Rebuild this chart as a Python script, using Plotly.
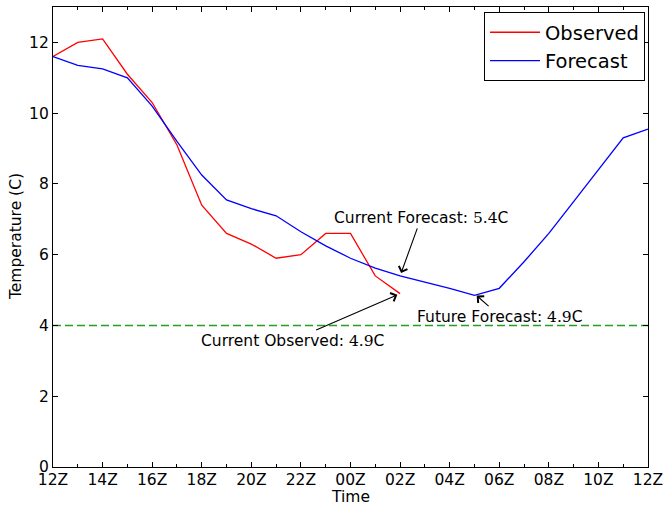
import plotly.graph_objects as go

# hours since 12Z
obs_hours = list(range(0, 15))
obs_temp = [11.6, 12.0, 12.1, 11.1, 10.3, 9.1, 7.4, 6.6, 6.3, 5.9, 6.0, 6.6, 6.6, 5.4, 4.9]

fc_hours = list(range(0, 25))
fc_temp = [11.6, 11.35, 11.25, 11.0, 10.2, 9.2, 8.25, 7.55, 7.3, 7.1, 6.65, 6.25, 5.9,
           5.62, 5.4, 5.23, 5.05, 4.85, 5.05, 5.8, 6.6, 7.5, 8.4, 9.3, 9.55]

threshold = 4.0
tick_hours = list(range(0, 25, 2))
tick_labels = ["12Z", "14Z", "16Z", "18Z", "20Z", "22Z", "00Z", "02Z", "04Z", "06Z", "08Z", "10Z", "12Z"]
y_ticks = [0, 2, 4, 6, 8, 10, 12]

current_fc = 5.4
current_obs = 4.9
future_fc = 4.9

FONT = "DejaVu Sans"
SERIF = "DejaVu Serif"
FS = 15.5

fig = go.Figure()
fig.add_trace(go.Scatter(x=obs_hours, y=obs_temp, mode="lines", name="Observed",
                         line=dict(color="#ff0000", width=1.3)))
fig.add_trace(go.Scatter(x=fc_hours, y=fc_temp, mode="lines", name="Forecast",
                         line=dict(color="#0000ff", width=1.3)))
fig.add_trace(go.Scatter(x=[fc_hours[0], fc_hours[-1]], y=[threshold, threshold], mode="lines",
                         showlegend=False, line=dict(color="#22a022", width=1.4, dash="8px,4px")))

def num(v):
    return f'<span style="font-family:{SERIF}">{v:.1f}</span>C'

ann_common = dict(xref="x", yref="y", showarrow=True, arrowhead=4, arrowsize=1.6,
                  arrowwidth=1.1, arrowcolor="black", standoff=3,
                  font=dict(family=FONT, size=FS, color="black"))
fig.add_annotation(x=14, y=current_fc, ax=21, ay=-58,
                   text="Current Forecast: " + num(current_fc), **ann_common)
fig.add_annotation(x=14, y=current_obs, ax=-108, ay=47,
                   text="Current Observed: " + num(current_obs), **ann_common)
fig.add_annotation(x=17, y=future_fc, ax=26, ay=23,
                   text="Future Forecast: " + num(future_fc), **ann_common)

# axis titles
fig.add_annotation(xref="paper", yref="paper", x=0.5, y=0, yshift=-30, yanchor="middle",
                   text="Time", showarrow=False, font=dict(family=FONT, size=FS, color="black"))
fig.add_annotation(xref="paper", yref="paper", x=0, xshift=-37, y=0.5, xanchor="center",
                   yanchor="middle", textangle=-90,
                   text="Temperature (C)", showarrow=False, font=dict(family=FONT, size=FS, color="black"))

axis_common = dict(showgrid=False, zeroline=False, showline=True, linecolor="black",
                   linewidth=1.2, mirror="allticks", ticks="inside", tickcolor="black",
                   automargin=False,
                   tickfont=dict(family=FONT, size=FS, color="black"))

fig.update_xaxes(range=[0, 24], tickvals=tick_hours, ticktext=tick_labels, ticklen=5,
                 ticklabelstandoff=-2,
                 minor=dict(dtick=1, ticks="inside", ticklen=3, tickcolor="black", showgrid=False),
                 **axis_common)
fig.update_yaxes(range=[0, 13], tickvals=y_ticks, ticklen=5, **axis_common)

fig.update_layout(
    width=667, height=505,
    margin=dict(l=53, r=19, t=7, b=38),
    paper_bgcolor="white", plot_bgcolor="white",
    font=dict(family=FONT, size=FS, color="black"),
    legend=dict(x=0.995, y=0.989, xanchor="right", yanchor="top",
                bordercolor="black", borderwidth=1, bgcolor="white",
                font=dict(family=FONT, size=19.5, color="black"),
                itemwidth=50, tracegroupgap=0),
    showlegend=True,
)

fig.write_html("out.html")
